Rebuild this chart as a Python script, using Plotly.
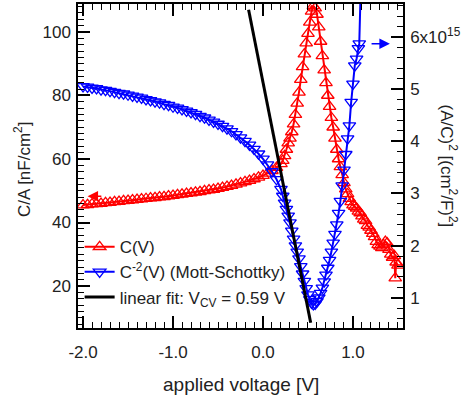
import plotly.graph_objects as go

# ---------------- data ----------------
# dense region, shared voltage grid
V_A = [-2.00, -1.95, -1.90, -1.85, -1.80, -1.75, -1.70, -1.65, -1.60, -1.55,
       -1.50, -1.45, -1.40, -1.35, -1.30, -1.25, -1.20, -1.15, -1.10, -1.05,
       -1.00, -0.95, -0.90, -0.85, -0.80, -0.75, -0.70, -0.65, -0.60, -0.55,
       -0.50, -0.45, -0.40, -0.35, -0.30, -0.25, -0.20, -0.15, -0.10, -0.05,
       0.00, 0.05, 0.10, 0.15, 0.20]
C_A = [45.5, 45.6, 45.8, 45.9, 46.0, 46.2, 46.3, 46.5, 46.6, 46.8,
       46.9, 47.1, 47.2, 47.4, 47.5, 47.7, 47.8, 48.0, 48.1, 48.3,
       48.5, 48.7, 48.9, 49.1, 49.3, 49.5, 49.7, 50.0, 50.2, 50.4,
       50.7, 51.0, 51.3, 51.6, 52.0, 52.4, 52.8, 53.2, 53.7, 54.2,
       54.8, 55.5, 56.3, 57.3, 58.5]
MS_A = [5.05, 5.04, 5.02, 5.01, 4.99, 4.98, 4.96, 4.94, 4.92, 4.91,
        4.89, 4.87, 4.85, 4.83, 4.80, 4.78, 4.76, 4.74, 4.71, 4.69,
        4.66, 4.64, 4.61, 4.58, 4.55, 4.52, 4.48, 4.45, 4.41, 4.37,
        4.33, 4.29, 4.24, 4.19, 4.13, 4.07, 4.00, 3.93, 3.85, 3.76,
        3.66, 3.55, 3.42, 3.27, 3.08]

# peak region
V_B = [0.22, 0.24, 0.26, 0.28, 0.30, 0.32, 0.34, 0.36, 0.38, 0.40,
       0.42, 0.44, 0.46, 0.48, 0.50, 0.52, 0.54, 0.56, 0.58, 0.60,
       0.62, 0.64, 0.66, 0.68, 0.70, 0.72, 0.74, 0.76, 0.78, 0.80,
       0.82, 0.84, 0.86, 0.88, 0.90, 0.92, 0.94, 0.96]
C_B = [59.5, 61.0, 63.0, 65.0, 66.5, 68.5, 71.0, 74.0, 77.5, 81.0,
       85.0, 89.0, 93.0, 96.5, 99.5, 103.0, 106.5, 108.2, 107.5, 105.5,
       101.5, 97.0, 92.5, 88.0, 84.0, 80.0, 76.5, 73.0, 70.0, 66.5,
       63.0, 60.0, 57.5, 55.0, 52.5, 50.5, 49.0, 47.5]
MS_B = [2.95, 2.82, 2.70, 2.57, 2.44, 2.28, 2.13, 2.00, 1.88, 1.75,
        1.60, 1.46, 1.32, 1.18, 1.06, 0.97, 0.90, 0.87, 0.88, 0.93,
        1.00, 1.09, 1.19, 1.31, 1.44, 1.57, 1.72, 1.88, 2.05, 2.22,
        2.40, 2.62, 2.85, 3.15, 3.45, 3.75, 4.05, 4.30]

# high-voltage tails
V_C_RED = [0.98, 1.00, 1.02, 1.04, 1.06, 1.08, 1.10, 1.12, 1.14, 1.16,
           1.18, 1.20, 1.22, 1.24, 1.26, 1.28, 1.30, 1.32, 1.34, 1.36,
           1.38, 1.40, 1.42, 1.44, 1.46, 1.47, 1.48, 1.50]
C_C = [46.5, 45.5, 45.0, 44.5, 43.5, 43.0, 42.0, 41.0, 40.5, 39.0,
       38.5, 37.5, 36.5, 35.5, 34.0, 33.0, 32.5, 32.0, 33.0, 34.0,
       33.5, 31.5, 30.0, 29.0, 29.5, 22.5, 27.5, 26.5]
V_C_MS = [0.98, 1.00, 1.02, 1.04, 1.06, 1.07, 1.09, 1.12]
MS_C = [4.75, 5.10, 5.45, 5.58, 5.78, 5.87, 7.20, 9.00]

# linear fit of the Mott-Schottky plot (x10^15)
FIT_V = [-0.16, 0.53]
FIT_Y = [6.52, 0.52]

X_TICKS = [-2.0, -1.0, 0.0, 1.0]
X_LABELS = ["-2.0", "-1.0", "0.0", "1.0"]
LEFT_TICKS = [20, 40, 60, 80, 100]
RIGHT_TICKS = [1, 2, 3, 4, 5, 6]
RIGHT_LABELS = ["1", "2", "3", "4", "5", "6x10<sup>15</sup>"]

# ---------------- figure ----------------
RED = "#ff0000"
BLUE = "#0000ff"
FONT = "Liberation Sans, Arial, Helvetica, sans-serif"
TXT = "#222222"

fig = go.Figure()
fig.add_trace(go.Scatter(
    x=V_A + V_B + V_C_RED, y=C_A + C_B + C_C, mode="lines+markers",
    name="C(V)", line=dict(color=RED, width=2),
    marker=dict(symbol="triangle-up-open", size=11, color=RED, line=dict(width=1.3)),
    yaxis="y"))
fig.add_trace(go.Scatter(
    x=V_A + V_B + V_C_MS, y=MS_A + MS_B + MS_C, mode="lines+markers",
    name="C<sup>-2</sup>(V) (Mott-Schottky)", line=dict(color=BLUE, width=2),
    marker=dict(symbol="triangle-down-open", size=11, color=BLUE, line=dict(width=1.3)),
    yaxis="y2"))
fig.add_trace(go.Scatter(
    x=FIT_V, y=FIT_Y, mode="lines", name="linear fit: V<sub>CV</sub> = 0.59 V",
    line=dict(color="black", width=3), yaxis="y2"))

axis_common = dict(showline=True, linecolor="black", linewidth=1.5, ticks="inside",
                   tickcolor="black", tickwidth=1.5, showgrid=False, zeroline=False,
                   automargin=False,
                   tickfont=dict(family=FONT, size=17, color=TXT))

fig.update_layout(
    width=467, height=405,
    margin=dict(l=78, r=64, t=4, b=77, autoexpand=False),
    paper_bgcolor="white", plot_bgcolor="white",
    font=dict(family=FONT, size=17, color=TXT),
    showlegend=True,
    legend=dict(x=0.005, y=0.305, xanchor="left", yanchor="top",
                bgcolor="rgba(0,0,0,0)", font=dict(family=FONT, size=17, color=TXT),
                itemwidth=30),
    xaxis=dict(range=[-2.056, 1.556], tickmode="array", tickvals=X_TICKS,
               ticktext=X_LABELS, ticklen=12, mirror="ticks",
               ticklabelstandoff=8,
               minor=dict(tickmode="linear", tick0=0, dtick=0.1, ticklen=6,
                          ticks="inside", tickcolor="black", tickwidth=1.2),
               **axis_common),
    yaxis=dict(range=[6.8, 108.8], tickmode="array", tickvals=LEFT_TICKS, ticklen=12,
               ticklabelstandoff=2,
               minor=dict(tickmode="linear", tick0=0, dtick=2, ticklen=6,
                          ticks="inside", tickcolor="black", tickwidth=1.2),
               **axis_common),
    yaxis2=dict(range=[0.42, 6.63], overlaying="y", side="right", tickmode="array",
                tickvals=RIGHT_TICKS, ticktext=RIGHT_LABELS, ticklen=12,
                ticklabelstandoff=2,
                minor=dict(tickmode="linear", tick0=0, dtick=0.2, ticklen=6,
                           ticks="inside", tickcolor="black", tickwidth=1.2),
                **axis_common),
)

# axis titles as annotations for precise placement
fig.add_annotation(text="applied voltage [V]", xref="paper", yref="paper",
                   x=0.5, y=-0.175, xanchor="center", yanchor="middle", showarrow=False,
                   font=dict(family=FONT, size=19, color=TXT))
fig.add_annotation(text="C/A [nF/cm<sup>2</sup>]", xref="paper", yref="paper",
                   x=-0.17, y=0.49, xanchor="center", yanchor="middle", showarrow=False,
                   textangle=-90, font=dict(family=FONT, size=17, color=TXT))
fig.add_annotation(text="(A/C)<sup>2</sup> [(cm<sup>2</sup>/F)<sup>2</sup>]", xref="paper", yref="paper",
                   x=1.14, y=0.5, xanchor="center", yanchor="middle", showarrow=False,
                   textangle=90, font=dict(family=FONT, size=17, color=TXT))

# axis-indicator arrows
fig.add_annotation(x=-1.95, y=48.3, ax=-1.78, ay=48.3, xref="x", yref="y",
                   axref="x", ayref="y", text="", showarrow=True, arrowhead=2,
                   arrowsize=1.4, arrowwidth=1.5, arrowcolor=RED)
fig.add_annotation(x=1.41, y=5.87, ax=1.19, ay=5.87, xref="x", yref="y2",
                   axref="x", ayref="y2", text="", showarrow=True, arrowhead=2,
                   arrowsize=1.4, arrowwidth=1.5, arrowcolor=BLUE)

fig.write_html("out.html", config={"displayModeBar": False},
               post_script="document.body.style.margin='0px';")
